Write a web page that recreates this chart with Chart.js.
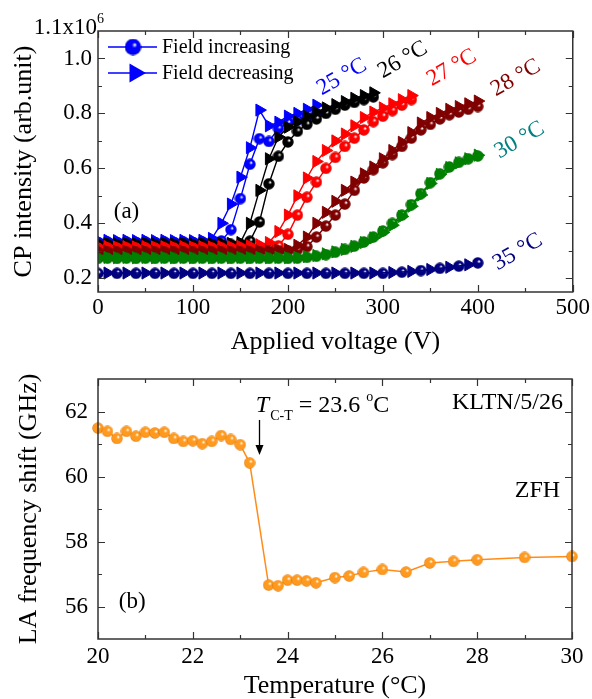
<!DOCTYPE html>
<html>
<head>
<meta charset="utf-8">
<script src="https://cdn.jsdelivr.net/npm/chart.js@4.4.1/dist/chart.umd.min.js"></script>
<style>
  html, body { margin:0; padding:0; background:#fff; }
  #wrap { position:relative; width:592px; height:699px; }
  canvas { position:absolute; left:0; }
  #cvA { top:0; }
  #cvB { top:355px; }
</style>
</head>
<body>
<div id="wrap">
  <canvas id="cvA" width="592" height="355"></canvas>
  <canvas id="cvB" width="592" height="344"></canvas>
</div>
<script>
const FONT = "'Liberation Serif', 'Times New Roman', serif";

//========================= data panel (a) ============================
const volt = [0,10,20,30,40,50,60,70,80,90,100,110,120,130,140,150,160,170,180,190,200,
              210,220,230,240,250,260,270,280,290,300,310,320,330,340,350,360,370,380,390,400];
const voltEven = [0,20,40,60,80,100,120,140,160,180,200,220,240,260,280,300,320,340,360,380,400];
const voltOdd  = [10,30,50,70,90,110,130,150,170,190,210,230,250,270,290,310,330,350,370,390];

// 25 C (0..230 V)
const inc25 = [0.330,0.331,0.330,0.331,0.330,0.331,0.330,0.331,0.330,0.331,0.330,0.331,0.332,0.336,
               0.377,0.490,0.615,0.708,0.698,0.745,0.765,0.775,0.785,0.800];
const dec25 = [0.337,0.338,0.337,0.338,0.337,0.338,0.337,0.338,0.337,0.338,0.337,0.338,0.345,0.400,
               0.470,0.568,0.675,0.812,0.755,0.768,0.790,0.800,0.815,0.830];
// 26 C (0..290 V)
const inc26 = [0.322,0.323,0.322,0.323,0.322,0.323,0.322,0.323,0.322,0.323,0.322,0.323,0.322,0.323,0.323,0.324,
               0.335,0.405,0.544,0.644,0.696,0.735,0.760,0.780,0.800,0.815,0.830,0.840,0.850,0.860];
const dec26 = [0.326,0.327,0.326,0.327,0.326,0.327,0.326,0.327,0.326,0.327,0.326,0.327,0.326,0.327,0.327,0.330,
               0.400,0.520,0.635,0.714,0.750,0.770,0.790,0.805,0.820,0.832,0.843,0.855,0.865,0.875];
// 27 C (0..330 V)
const inc27 = [0.310,0.311,0.310,0.311,0.310,0.311,0.310,0.311,0.310,0.311,0.310,0.311,0.310,0.311,0.310,0.311,0.311,0.312,0.313,0.318,
               0.360,0.430,0.495,0.550,0.600,0.640,0.680,0.710,0.740,0.770,0.790,0.810,0.830,0.850];
const dec27 = [0.314,0.315,0.314,0.315,0.314,0.315,0.314,0.315,0.314,0.315,0.314,0.315,0.314,0.315,0.315,0.316,0.318,0.322,
               0.330,0.370,0.430,0.500,0.565,0.625,0.665,0.700,0.725,0.755,0.785,0.805,0.820,0.835,0.850,0.865];
// 28 C (0..400 V)
const inc28 = [0.295,0.296,0.295,0.296,0.295,0.296,0.295,0.296,0.295,0.296,0.295,0.296,0.295,0.296,0.295,0.296,0.296,0.297,0.298,0.299,0.300,0.304,
               0.315,0.350,0.390,0.430,0.470,0.520,0.565,0.595,0.620,0.650,0.680,0.710,0.740,0.760,0.780,0.795,0.805,0.815,0.825];
const dec28 = [0.298,0.299,0.298,0.299,0.298,0.299,0.298,0.299,0.298,0.299,0.298,0.299,0.298,0.299,0.298,0.299,0.299,0.300,0.300,0.302,0.305,
               0.320,0.350,0.400,0.440,0.480,0.520,0.550,0.580,0.605,0.635,0.665,0.695,0.730,0.765,0.785,0.800,0.815,0.825,0.835,0.845];
// 30 C (0..400 V)
const inc30 = [0.272,0.273,0.272,0.273,0.272,0.273,0.272,0.273,0.272,0.273,0.272,0.273,0.272,0.273,0.272,0.273,0.272,0.273,0.272,0.273,0.272,
               0.273,0.276,0.280,0.286,0.295,0.305,0.317,0.332,0.350,0.372,0.400,0.430,0.468,0.508,0.548,0.580,0.605,0.622,0.635,0.645];
const dec30 = [0.275,0.276,0.275,0.276,0.275,0.276,0.275,0.276,0.275,0.276,0.275,0.276,0.275,0.276,0.275,0.276,0.275,0.276,0.275,0.276,0.275,
               0.276,0.279,0.283,0.289,0.296,0.305,0.316,0.330,0.347,0.367,0.393,0.425,0.462,0.503,0.545,0.578,0.603,0.620,0.635,0.648];
// 35 C (every 20 V)
const inc35 = [0.218,0.218,0.218,0.218,0.218,0.218,0.218,0.218,0.218,0.218,0.218,0.218,0.218,0.218,0.218,0.218,
               0.222,0.228,0.236,0.244,0.256];
const dec35 = [0.219,0.219,0.219,0.219,0.219,0.219,0.219,0.219,0.219,0.219,0.219,0.219,0.219,0.219,0.219,
               0.221,0.225,0.232,0.240,0.249];

const tempNames = ['25 \u00B0C','26 \u00B0C','27 \u00B0C','28 \u00B0C','30 \u00B0C','35 \u00B0C'];

//========================= data panel (b) ============================
const temps = [20,20.2,20.4,20.6,20.8,21,21.2,21.4,21.6,21.8,22,22.2,22.4,22.6,22.8,23,23.2,
               23.6,23.8,24,24.2,24.4,24.6,25,25.3,25.6,26,26.5,27,27.5,28,29,30];
const laShift = [61.49,61.39,61.17,61.39,61.24,61.36,61.34,61.36,61.17,61.08,61.10,61.01,61.08,61.26,61.14,60.98,60.42,
                 56.66,56.64,56.81,56.81,56.79,56.73,56.89,56.94,57.05,57.14,57.06,57.34,57.39,57.44,57.51,57.54];

//========================= helpers ============================
function ball(color, edge, d){
  const c = document.createElement('canvas');
  c.width = d; c.height = d;
  const g = c.getContext('2d');
  const r = d/2;
  const grd = g.createRadialGradient(d*0.62, d*0.36, 0.3, d*0.5, d*0.5, r);
  grd.addColorStop(0, '#ffffff');
  grd.addColorStop(0.28, color);
  grd.addColorStop(0.8, color);
  grd.addColorStop(1, edge);
  g.fillStyle = grd;
  g.beginPath(); g.arc(r, r, r-0.3, 0, Math.PI*2); g.fill();
  return c;
}
const pts = (xs, ys) => ys.map((y,i) => ({x: xs[i], y: y}));

function incSet(xs, ys, color, edge){
  return { data: pts(xs, ys), borderColor: color, borderWidth: 1.4,
           pointStyle: ball(color, edge, 12), pointRadius: 6 };
}
function decSet(xs, ys, color){
  return { data: pts(xs, ys), borderColor: color, borderWidth: 1.4,
           pointStyle: 'triangle', pointRotation: 90, pointRadius: 7,
           pointBackgroundColor: color, pointBorderColor: color, pointBorderWidth: 1 };
}

// frame with inward ticks on the four sides
function framePlugin(xt, yt, xMajor, yMajor){
  return {
    id: 'frame',
    afterDraw(chart){
      const {ctx, chartArea: a, scales: {x, y}} = chart;
      ctx.save();
      ctx.strokeStyle = '#333';
      ctx.lineWidth = 1.2;
      ctx.beginPath();
      xt.forEach(v => {
        const px = Math.round(x.getPixelForValue(v)) + 0.5;
        const len = xMajor(v) ? 7 : 4;
        ctx.moveTo(px, a.bottom); ctx.lineTo(px, a.bottom - len);
        ctx.moveTo(px, a.top); ctx.lineTo(px, a.top + len);
      });
      yt.forEach(v => {
        const py = Math.round(y.getPixelForValue(v)) + 0.5;
        const len = yMajor(v) ? 7 : 4;
        ctx.moveTo(a.left, py); ctx.lineTo(a.left + len, py);
        ctx.moveTo(a.right, py); ctx.lineTo(a.right - len, py);
      });
      ctx.stroke();
      ctx.lineWidth = 1.5;
      ctx.strokeRect(a.left, a.top, a.right - a.left, a.bottom - a.top);
      ctx.restore();
    }
  };
}

function tri(ctx, cx, cy, r){
  ctx.beginPath();
  ctx.moveTo(cx + r, cy);
  ctx.lineTo(cx - r/2, cy - r*0.866);
  ctx.lineTo(cx - r/2, cy + r*0.866);
  ctx.closePath(); ctx.fill();
}

//========================= panel (a) ============================
const colA = [
  {c:'#000080', e:'#00004a', lab:'#000080'},
  {c:'#008000', e:'#004a00', lab:'#008080'},
  {c:'#800000', e:'#4a0000', lab:'#800000'},
  {c:'#ff0000', e:'#a00000', lab:'#ff0000'},
  {c:'#000000', e:'#000000', lab:'#000000'},
  {c:'#0000ff', e:'#0000a0', lab:'#0000ff'}
];
const setsA = [
  decSet(voltOdd, dec35, colA[0].c),  incSet(voltEven, inc35, colA[0].c, colA[0].e),
  decSet(volt, dec30, colA[1].c),     incSet(volt, inc30, colA[1].c, colA[1].e),
  decSet(volt, dec28, colA[2].c),     incSet(volt, inc28, colA[2].c, colA[2].e),
  decSet(volt, dec27, colA[3].c),     incSet(volt, inc27, colA[3].c, colA[3].e),
  decSet(volt, dec26, colA[4].c),     incSet(volt, inc26, colA[4].c, colA[4].e),
  decSet(volt, dec25, colA[5].c),     incSet(volt, inc25, colA[5].c, colA[5].e)
];

const xTicksA = [0,100,200,300,400,500];
const yTicksA = [0.2,0.4,0.6,0.8,1.0];
const xMarksA = [0,50,100,150,200,250,300,350,400,450,500];
const yMarksA = [0.2,0.3,0.4,0.5,0.6,0.7,0.8,0.9,1.0];

// label spots in data units: [voltage, intensity]
const tempSpots = [[442,0.296],[444,0.703],[440,0.929],[372.6,0.966],[321,0.995],[256.8,0.933]];

const notesA = {
  id: 'notesA',
  afterDatasetsDraw(chart){
    const {ctx, scales: {x, y}, chartArea: a} = chart;
    ctx.save();
    // legend
    const blue = '#0000ff';
    const rows = [{dy:16, t:'Field increasing', k:'ball'}, {dy:42, t:'Field decreasing', k:'tri'}];
    const bl = ball(blue, '#0000a0', 17);
    rows.forEach(r => {
      const yy = a.top + r.dy;
      ctx.strokeStyle = blue; ctx.lineWidth = 1.5;
      ctx.beginPath(); ctx.moveTo(a.left + 10, yy); ctx.lineTo(a.left + 59, yy); ctx.stroke();
      if (r.k === 'ball') ctx.drawImage(bl, a.left + 35 - 8.5, yy - 8.5);
      else { ctx.fillStyle = blue; tri(ctx, a.left + 37, yy, 11); }
      ctx.fillStyle = '#000'; ctx.font = '20px ' + FONT;
      ctx.textAlign = 'left'; ctx.textBaseline = 'middle';
      ctx.fillText(r.t, a.left + 64, yy + 1);
    });
    // temperature labels
    tempSpots.forEach((s, i) => {
      ctx.save();
      ctx.translate(x.getPixelForValue(s[0]), y.getPixelForValue(s[1]));
      ctx.rotate(-30 * Math.PI / 180);
      ctx.fillStyle = colA[i].lab;
      ctx.font = '23px ' + FONT;
      ctx.textAlign = 'center'; ctx.textBaseline = 'middle';
      ctx.fillText(tempNames[5 - i], 0, 0);
      ctx.restore();
    });
    // (a)
    ctx.fillStyle = '#000'; ctx.font = '23px ' + FONT;
    ctx.textAlign = 'center'; ctx.textBaseline = 'middle';
    ctx.fillText('(a)', x.getPixelForValue(30), y.getPixelForValue(0.44));
    // top value with exponent
    ctx.textAlign = 'right'; ctx.textBaseline = 'alphabetic';
    ctx.fillText('1.1x10', a.left - 1, a.top + 3);
    ctx.textAlign = 'left'; ctx.font = '14px ' + FONT;
    ctx.fillText('6', a.left - 1, a.top - 8);
    ctx.restore();
  }
};

new Chart(document.getElementById('cvA'), {
  type: 'line',
  data: { datasets: setsA },
  options: {
    responsive: false, animation: false,
    layout: { padding: { left: 0, top: 31, right: 19, bottom: 0 } },
    plugins: { legend: { display: false }, tooltip: { enabled: false } },
    elements: { line: { tension: 0 } },
    scales: {
      x: {
        type: 'linear', min: 0, max: 500,
        afterBuildTicks: s => { s.ticks = xTicksA.map(v => ({value: v})); },
        afterFit: s => { s.height = 63; },
        grid: { display: false, drawTicks: false }, border: { display: false },
        ticks: { padding: 2, color: '#000', maxRotation: 0, font: { family: FONT, size: 23 }, callback: v => String(v) },
        title: { display: true, text: 'Applied voltage (V)', color: '#000',
                 font: { family: FONT, size: 26, lineHeight: 1 }, padding: { top: 0, bottom: 0 } }
      },
      y: {
        type: 'linear', min: 0.15, max: 1.1,
        afterBuildTicks: s => { s.ticks = yTicksA.map(v => ({value: v})); },
        afterFit: s => { s.width = 98; },
        grid: { display: false, drawTicks: false }, border: { display: false },
        ticks: { padding: 6, color: '#000', font: { family: FONT, size: 23 }, callback: v => v.toFixed(1) },
        title: { display: true, text: 'CP intensity (arb.unit)', color: '#000',
                 font: { family: FONT, size: 26, lineHeight: 1 }, padding: { top: 11, bottom: 0 } }
      }
    }
  },
  plugins: [framePlugin(xMarksA, yMarksA, v => v % 100 === 0, v => Math.round(v*10) % 2 === 0), notesA]
});

//========================= panel (b) ============================
const xTicksB = [20,22,24,26,28,30];
const yTicksB = [56,58,60,62];
const xMarksB = [20,21,22,23,24,25,26,27,28,29,30];
const yMarksB = [56,57,58,59,60,61,62];

const notesB = {
  id: 'notesB',
  afterDatasetsDraw(chart){
    const {ctx, scales: {x, y}} = chart;
    ctx.save();
    ctx.fillStyle = '#000'; ctx.strokeStyle = '#000';
    // arrow
    const ax = Math.round(x.getPixelForValue(23.4)) + 0.5;
    const y0 = y.getPixelForValue(61.74), y1 = y.getPixelForValue(60.66);
    ctx.lineWidth = 1.3;
    ctx.beginPath(); ctx.moveTo(ax, y0); ctx.lineTo(ax, y1 - 8); ctx.stroke();
    ctx.beginPath(); ctx.moveTo(ax - 4, y1 - 10); ctx.lineTo(ax + 4, y1 - 10); ctx.lineTo(ax, y1); ctx.closePath(); ctx.fill();
    // T_C-T = 23.6 oC
    let tx = x.getPixelForValue(23.33);
    const by = y.getPixelForValue(61.99);
    ctx.textAlign = 'left'; ctx.textBaseline = 'alphabetic';
    ctx.font = 'italic 24px ' + FONT;
    ctx.fillText('T', tx, by);
    tx += ctx.measureText('T').width + 1;
    ctx.font = '14px ' + FONT;
    ctx.fillText('C-T', tx, by + 8);
    tx += ctx.measureText('C-T').width + 6;
    ctx.font = '24px ' + FONT;
    ctx.fillText('= 23.6', tx, by);
    tx += ctx.measureText('= 23.6 ').width;
    ctx.font = '14px ' + FONT;
    ctx.fillText('o', tx, by - 11);
    tx += ctx.measureText('o').width;
    ctx.font = '24px ' + FONT;
    ctx.fillText('C', tx, by);
    // sample and mode
    ctx.textAlign = 'right';
    ctx.fillText('KLTN/5/26', x.getPixelForValue(29.81), y.getPixelForValue(62.08));
    ctx.fillText('ZFH', x.getPixelForValue(29.75), y.getPixelForValue(59.38));
    // (b)
    ctx.textAlign = 'left'; ctx.textBaseline = 'middle'; ctx.font = '23px ' + FONT;
    ctx.fillText('(b)', x.getPixelForValue(20.44), y.getPixelForValue(56.15));
    ctx.restore();
  }
};

new Chart(document.getElementById('cvB'), {
  type: 'line',
  data: { datasets: [{
    data: pts(temps, laShift), borderColor: '#ff8c1a', borderWidth: 1.5, clip: false,
    pointStyle: ball('#ff9a1f', '#d06800', 12), pointRadius: 6
  }] },
  options: {
    responsive: false, animation: false,
    layout: { padding: { left: 0, top: 24, right: 20, bottom: 0 } },
    plugins: { legend: { display: false }, tooltip: { enabled: false } },
    elements: { line: { tension: 0 } },
    scales: {
      x: {
        type: 'linear', min: 20, max: 30,
        afterBuildTicks: s => { s.ticks = xTicksB.map(v => ({value: v})); },
        afterFit: s => { s.height = 60; },
        grid: { display: false, drawTicks: false }, border: { display: false },
        ticks: { padding: 4, color: '#000', maxRotation: 0, font: { family: FONT, size: 23 }, callback: v => String(v) },
        title: { display: true, text: 'Temperature (\u00B0C)', color: '#000',
                 font: { family: FONT, size: 26, lineHeight: 1 }, padding: { top: 0, bottom: 0 } }
      },
      y: {
        type: 'linear', min: 55, max: 63,
        afterBuildTicks: s => { s.ticks = yTicksB.map(v => ({value: v})); },
        afterFit: s => { s.width = 98; },
        grid: { display: false, drawTicks: false }, border: { display: false },
        ticks: { padding: 10, color: '#000', font: { family: FONT, size: 23 }, callback: v => String(v) },
        title: { display: true, text: 'LA frequency shift (GHz)', color: '#000',
                 font: { family: FONT, size: 26, lineHeight: 1 }, padding: { top: 16, bottom: 0 } }
      }
    }
  },
  plugins: [framePlugin(xMarksB, yMarksB, v => v % 2 === 0, v => v % 2 === 0), notesB]
});
</script>
</body>
</html>
